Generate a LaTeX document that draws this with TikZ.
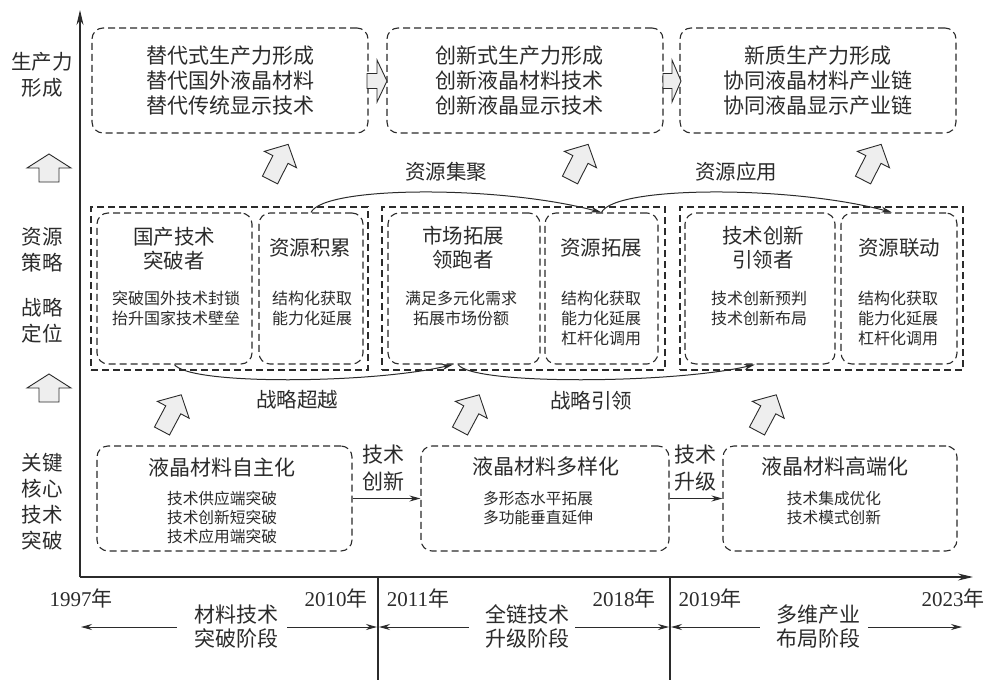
\documentclass[tikz,border=0pt]{standalone}
\usepackage{fontspec}
\setmainfont{Liberation Serif}
\newfontfamily\cjk{Noto Sans CJK SC}
\usetikzlibrary{arrows.meta}
\definecolor{ink}{HTML}{2B2B2B}
\definecolor{afill}{HTML}{EEEEEE}
\tikzset{
  dbox/.style={draw=ink, line width=1.1pt, dash pattern=on 7pt off 4pt, rounded corners=11pt, inner sep=0pt},
  gbox/.style={draw=ink, line width=1.1pt, dash pattern=on 7pt off 4pt, inner sep=0pt},
  tbig/.style={font=\cjk\fontsize{21}{25}\selectfont, text=ink, align=center, inner sep=0pt},
  ttitle/.style={font=\cjk\fontsize{20.5}{24}\selectfont, text=ink, align=center, inner sep=0pt},
  tsub/.style={font=\cjk\fontsize{16}{20}\selectfont, text=ink, align=center, inner sep=0pt},
  tsmall/.style={font=\cjk\fontsize{15.7}{19.3}\selectfont, text=ink, align=center, inner sep=0pt},
  lab/.style={font=\cjk\fontsize{20.5}{26}\selectfont, text=ink, align=center, inner sep=0pt},
  harr/.style={draw=ink, fill=afill, line width=0.9pt, line join=miter},
  conn/.style={draw=ink, line width=1pt, -{Stealth[length=11pt,width=6pt]}},
  curv/.style={draw=ink, line width=1pt, -{Stealth[length=11pt,width=6pt]}},
  axisline/.style={draw=ink, line width=1.2pt, -{Stealth[length=15pt,width=7pt]}},
  yearlab/.style={font=\fontsize{21}{25}\selectfont, text=ink, inner sep=0pt},
}
% hollow block arrow: x y angle L headlen headwidth shaftwidth
\newcommand\harrow[7]{%
  \begin{scope}[shift={(#1,#2)}, rotate=#3]
    \draw[harr] (0,{-#7/2}) -- ({#4-#5},{-#7/2}) -- ({#4-#5},{-#6/2}) -- (#4,0)
      -- ({#4-#5},{#6/2}) -- ({#4-#5},{#7/2}) -- (0,{#7/2}) -- cycle;
  \end{scope}}
\begin{document}
\begin{tikzpicture}[x=1pt,y=-1pt]
\path[use as bounding box, fill=white] (0,0) rectangle (985,680);

% axes
\coordinate (origin) at (80,577);
\coordinate (ytop) at (80,10);
\coordinate (xend) at (973,577);
\draw[axisline] (origin) -- (ytop);
\draw[axisline] (origin) -- (xend);

% left labels
\node[lab] (l1) at (42,75) {生产力\\形成};
\node[lab] (l2) at (42,249.5) {资源\\策略};
\node[lab] (l3) at (42,320.5) {战略\\定位};
\node[lab] (l4) at (42,502) {关键\\核心\\技术\\突破};
\harrow{49}{182}{90}{28}{14}{44}{20}
\harrow{49}{402}{90}{28}{14}{44}{20}

% top boxes
\node[dbox, tbig, minimum width=276pt, minimum height=105pt] (p1) at (230,80.5)
  {替代式生产力形成\\替代国外液晶材料\\替代传统显示技术};
\node[dbox, minimum width=276pt, minimum height=105pt] (p2) at (525,80.5) {};
\node[tbig] (p2t) at (519,80.5) {创新式生产力形成\\创新液晶材料技术\\创新液晶显示技术};
\node[dbox, tbig, minimum width=276pt, minimum height=105pt] (p3) at (818,80.5)
  {新质生产力形成\\协同液晶材料产业链\\协同液晶显示产业链};
\harrow{367}{81}{0}{20}{10}{42}{15}
\harrow{663}{81}{0}{18}{9}{42}{15}

% tilted arrows upper
\harrow{270}{180}{63}{40}{17}{36}{17}
\harrow{570}{180}{63}{40}{17}{36}{17}
\harrow{863}{180}{63}{40}{17}{36}{17}

% middle groups
\node[gbox, minimum width=277pt, minimum height=163pt] (g1) at (229.5,288.5) {};
\node[gbox, minimum width=283pt, minimum height=163pt] (g2) at (523.5,288.5) {};
\node[gbox, minimum width=283pt, minimum height=163pt] (g3) at (821.5,288.5) {};
\node[dbox, minimum width=155pt, minimum height=151pt] (g1a) at (174.5,288.5) {};
\node[dbox, minimum width=104pt, minimum height=151pt] (g1b) at (311,288.5) {};
\node[dbox, minimum width=152pt, minimum height=151pt] (g2a) at (464,288.5) {};
\node[dbox, minimum width=113pt, minimum height=151pt] (g2b) at (601.5,288.5) {};
\node[dbox, minimum width=150pt, minimum height=151pt] (g3a) at (760,288.5) {};
\node[dbox, minimum width=116pt, minimum height=151pt] (g3b) at (899,288.5) {};

\node[ttitle] (g1at) at (174,248.5) {国产技术\\突破者};
\node[tsub] (g1as) at (176,308) {突破国外技术封锁\\抬升国家技术壁垒};
\node[ttitle] (g1bt) at (310,248) {资源积累};
\node[tsub] (g1bs) at (312,308) {结构化获取\\能力化延展};
\node[ttitle] (g2at) at (463,247.5) {市场拓展\\领跑者};
\node[tsub] (g2as) at (461,308) {满足多元化需求\\拓展市场份额};
\node[ttitle] (g2bt) at (601,248) {资源拓展};
\node[tsub] (g2bs) at (601,318) {结构化获取\\能力化延展\\杠杆化调用};
\node[ttitle] (g3at) at (763,247.5) {技术创新\\引领者};
\node[tsub] (g3as) at (759,308) {技术创新预判\\技术创新布局};
\node[ttitle] (g3bt) at (899,248) {资源联动};
\node[tsub] (g3bs) at (898,318) {结构化获取\\能力化延展\\杠杆化调用};

% curves
\draw[curv] (g1b.north) .. controls +(13,-27) and +(-100,-27) .. (g2b.north);
\draw[curv] (g2b.north) .. controls +(13,-27) and +(-100,-27) .. ([xshift=-7pt]g3b.north);
\draw[curv] (g1a.south) .. controls +(15,21) and +(-80,19) .. ([xshift=-11pt]g2a.south);
\draw[curv] ([xshift=-6pt]g2a.south) .. controls +(15,21) and +(-80,19) .. ([xshift=-5pt]g3a.south);
\node[ttitle] (c1) at (446,172) {资源集聚};
\node[ttitle] (c2) at (736,172) {资源应用};
\node[ttitle] (c3) at (297,400) {战略超越};
\node[ttitle] (c4) at (591,401) {战略引领};

% tilted arrows lower
\harrow{162}{431}{62}{41}{17}{36}{17}
\harrow{460}{431}{62}{41}{17}{36}{17}
\harrow{757}{431}{62}{41}{17}{36}{17}

% bottom boxes
\node[dbox, minimum width=255pt, minimum height=105pt] (b1) at (224.5,498.5) {};
\node[dbox, minimum width=248pt, minimum height=105pt] (b2) at (545,498.5) {};
\node[dbox, minimum width=234pt, minimum height=105pt] (b3) at (840,498.5) {};
\node[tbig] (b1t) at (222,467) {液晶材料自主化};
\node[tsmall] (b1s) at (222,517.5) {技术供应端突破\\技术创新短突破\\技术应用端突破};
\node[tbig] (b2t) at (546,467) {液晶材料多样化};
\node[tsmall] (b2s) at (538,508) {多形态水平拓展\\多功能垂直延伸};
\node[tbig] (b3t) at (835,467) {液晶材料高端化};
\node[tsmall] (b3s) at (834,508) {技术集成优化\\技术模式创新};
\draw[conn] (b1.east) -- (b2.west);
\draw[conn] (b2.east) -- (b3.west);
\node[font=\cjk\fontsize{21}{27}\selectfont, text=ink, align=center, inner sep=0pt] (k1) at (383,468) {技术\\创新};
\node[font=\cjk\fontsize{21}{27}\selectfont, text=ink, align=center, inner sep=0pt] (k2) at (695,468) {技术\\升级};

% timeline
\coordinate (s1a) at (378,577);
\coordinate (s1b) at (378,680);
\coordinate (s2a) at (670,577);
\coordinate (s2b) at (670,680);
\draw[draw=ink, line width=1.1pt] (s1a) -- (s1b);
\draw[draw=ink, line width=1.1pt] (s2a) -- (s2b);
\node[yearlab] (y1) at (81,598) {1997{\cjk 年}};
\node[yearlab] (y2) at (336,598) {2010{\cjk 年}};
\node[yearlab] (y3) at (418,598) {2011{\cjk 年}};
\node[yearlab] (y4) at (624,598) {2018{\cjk 年}};
\node[yearlab] (y5) at (710,598) {2019{\cjk 年}};
\node[yearlab] (y6) at (953,598) {2023{\cjk 年}};

\node[font=\cjk\fontsize{21}{23.5}\selectfont, text=ink, align=center, inner sep=0pt] (ph1) at (236,626.5) {材料技术\\突破阶段};
\node[font=\cjk\fontsize{21}{23.5}\selectfont, text=ink, align=center, inner sep=0pt] (ph2) at (527,626.5) {全链技术\\升级阶段};
\node[font=\cjk\fontsize{21}{23.5}\selectfont, text=ink, align=center, inner sep=0pt] (ph3) at (818,626.5) {多维产业\\布局阶段};
\coordinate (e1) at (81,627);
\coordinate (e2) at (377,627);
\coordinate (e3) at (379,627);
\coordinate (e4) at (669,627);
\coordinate (e5) at (671,627);
\coordinate (e6) at (962,627);
\draw[conn] ([xshift=-17pt]ph1.west |- e1) -- (e1);
\draw[conn] ([xshift=9pt]ph1.east |- e2) -- (e2);
\draw[conn] ([xshift=-16pt]ph2.west |- e3) -- (e3);
\draw[conn] ([xshift=6pt]ph2.east |- e4) -- (e4);
\draw[conn] ([xshift=-16pt]ph3.west |- e5) -- (e5);
\draw[conn] ([xshift=8pt]ph3.east |- e6) -- (e6);
\end{tikzpicture}
\end{document}
